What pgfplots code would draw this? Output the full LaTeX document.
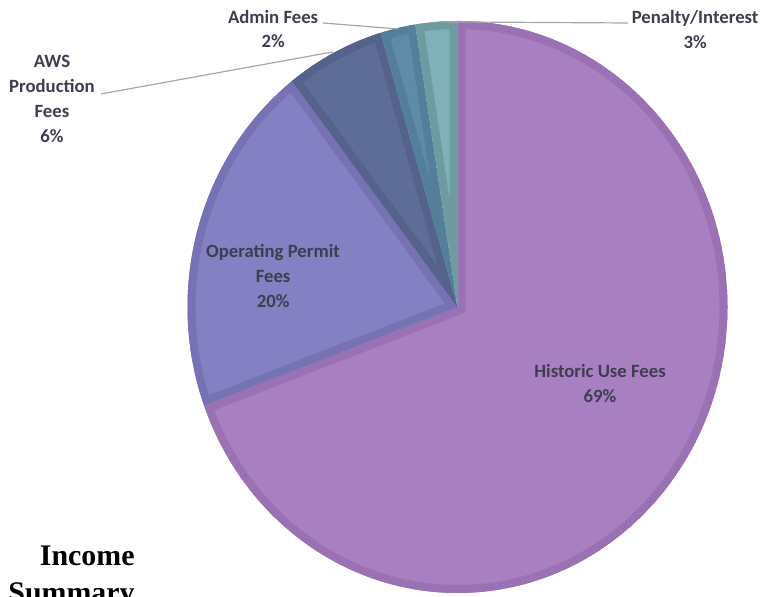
\documentclass[border=0pt]{standalone}
\usepackage{fontspec}
\setmainfont{Carlito}
\newfontfamily\titlefont{Liberation Serif}
\usepackage{pgfplots}
\usepackage{pgfplotstable}
\pgfplotsset{compat=1.18}

\definecolor{pieF0}{RGB}{168,128,194}
\definecolor{pieB0}{RGB}{154,114,180}
\definecolor{pieF1}{RGB}{132,128,196}
\definecolor{pieB1}{RGB}{119,114,180}
\definecolor{pieF2}{RGB}{94,108,152}
\definecolor{pieB2}{RGB}{84,98,140}
\definecolor{pieF3}{RGB}{94,140,168}
\definecolor{pieB3}{RGB}{84,126,154}
\definecolor{pieF4}{RGB}{128,176,184}
\definecolor{pieB4}{RGB}{110,154,162}
\definecolor{lbl}{RGB}{62,62,80}

\pgfplotstableread{
label value
Historic 69.4
Operating 20.1
AWS 5.9
Admin 2.1
Penalty 2.5
}\piedata

\begin{document}
\begin{tikzpicture}
\useasboundingbox (0,0) rectangle (387bp,298.5bp);
\clip (0,0) rectangle (387bp,298.5bp);
\gdef\cum{90}
\foreach \i in {0,...,4}{%
  \pgfplotstablegetelem{\i}{value}\of\piedata
  \pgfmathsetmacro\en{\cum-3.6*\pgfplotsretval}%
  \expandafter\xdef\csname pieS\i\endcsname{\cum}%
  \expandafter\xdef\csname pieE\i\endcsname{\en}%
  \xdef\cum{\en}%
}
\begin{axis}[
  at={(0,0)}, anchor=south west,
  scale only axis, width=387bp, height=298.5bp,
  xmin=-1.6944, xmax=1.1722, ymin=-1.014, ymax=1.0734,
  hide axis, clip=false,
]
\pgfplotsinvokeforeach{0,...,4}{
  \begin{scope}
    \clip (axis cs:0,0) -- (axis cs:{cos(\csname pieS#1\endcsname)},{sin(\csname pieS#1\endcsname)})
      arc[start angle=\csname pieS#1\endcsname, end angle=\csname pieE#1\endcsname, radius=1] -- cycle;
    \fill[pieF#1, draw=pieB#1, line width=8bp, line join=miter]
      (axis cs:0,0) -- (axis cs:{cos(\csname pieS#1\endcsname)},{sin(\csname pieS#1\endcsname)})
      arc[start angle=\csname pieS#1\endcsname, end angle=\csname pieE#1\endcsname, radius=1] -- cycle;
  \end{scope}
}
% leader lines
\draw[gray!70, line width=0.6bp] (axis cs:-1.320,0.745) -- (axis cs:-0.461,0.892);
\draw[gray!70, line width=0.6bp] (axis cs:-0.498,0.993) -- (axis cs:-0.220,0.972);
\draw[gray!70, line width=0.6bp] (axis cs:-0.065,0.997) -- (axis cs:0.631,0.993);
% labels
\tikzset{lab/.style={align=center, text=lbl, font=\fontsize{9.4}{12.5}\selectfont\bfseries, inner sep=0pt}}
\node[lab] at (axis cs:0.528,-0.269) {Historic Use Fees\\69\%};
\node[lab] at (axis cs:-0.683,0.108) {Operating Permit\\Fees\\20\%};
\node[lab] at (axis cs:-1.502,0.727) {AWS\\Production\\Fees\\6\%};
\node[lab] at (axis cs:-0.683,0.972) {Admin Fees\\2\%};
\node[lab] at (axis cs:0.880,0.970) {Penalty/Interest\\3\%};
\end{axis}
\node[anchor=base east, inner sep=0pt, font=\titlefont\fontsize{15}{18}\selectfont\bfseries] at (67.5bp,16bp) {Income};
\node[anchor=base east, inner sep=0pt, font=\titlefont\fontsize{15}{18}\selectfont\bfseries] at (67.5bp,-2.5bp) {Summary};
\end{tikzpicture}
\end{document}
